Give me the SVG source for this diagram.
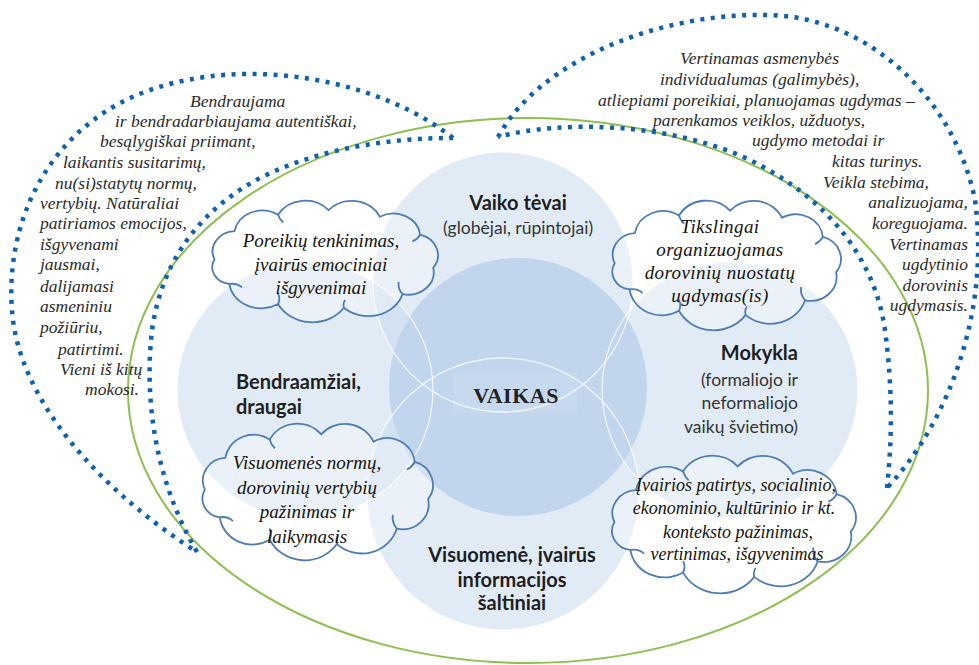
<svg xmlns="http://www.w3.org/2000/svg" xmlns:xlink="http://www.w3.org/1999/xlink" width="979" height="665" viewBox="0 0 979 665">
  <style>
    .it { font-family: "Liberation Serif", "DejaVu Serif", serif; font-style: italic; }
    .side { font-size: 17.5px; fill: #2a2a2a; }
    .cl { font-size: 19px; fill: #15130e; text-anchor: middle; }
    .cl4 { font-size: 18px; fill: #15130e; text-anchor: middle; }
    .sans { font-family: Lato, "Open Sans", "Liberation Sans", sans-serif; fill: #1e1e1e; }
    .hd { font-size: 20px; font-weight: bold; }
    .sub { font-size: 17.5px; fill: #333; }
    .ring { fill: #c8dbef; fill-opacity: 0.55; }
    .edge { fill: none; stroke: #ffffff; stroke-width: 1.3; stroke-opacity: 0.75; }
    .cloud { fill: #ffffff; fill-opacity: 0.3; stroke: #4e7db3; stroke-width: 1.8; }
    .cloudline { fill: none; stroke: #4e7db3; stroke-width: 1.8; }
    .dots { fill: none; stroke: #0f61ad; stroke-width: 4.5; stroke-dasharray: 4 6.5; }
  </style>
  <defs>
    <path id="cloudShape" vector-effect="non-scaling-stroke" d="M14 60 A18 18 0 0 1 29.6 34.8 A22 22 0 0 1 63.6 20.1 A24 24 0 0 1 103 16 A24 24 0 0 1 143 21.9 A21 21 0 0 1 174.5 38 A19 19 0 0 1 184.7 67.6 A20 20 0 0 1 160.8 91.1 A28 28 0 0 1 115 103.3 A30 30 0 0 1 63.6 99.9 A25 25 0 0 1 25.5 82 A15 15 0 0 1 14 60 Z"/>
    <path id="cloudInner" vector-effect="non-scaling-stroke" d="M25.5 82 q6 -1 10 3 M63.6 99.9 q2 -5 0 -9 M160.8 91.1 q-4 -5 -3 -11 M174.5 38 q-2 4 -6 6 M63.6 20.1 q1 4 4 7 M115 103.3 q-1 -4 1 -7"/>
  </defs>

  <rect width="979" height="665" fill="#ffffff"/>

  <!-- outer boundary -->
  <ellipse id="boundary" cx="528" cy="390.5" rx="400" ry="272.5" fill="none" stroke="#8ebf50" stroke-width="2"/>

  <!-- venn circles -->
  <g id="circles">
    <circle class="ring" cx="503" cy="282" r="130"/>
    <circle class="ring" cx="305" cy="390" r="128"/>
    <circle class="ring" cx="730" cy="390" r="128"/>
    <circle class="ring" cx="503" cy="494" r="136"/>
    <circle cx="518" cy="387" r="129" fill="#c1d5ec"/>
    <rect x="453" y="373" width="124" height="40" fill="#c6d9ee"/>
    <circle class="edge" cx="503" cy="282" r="130"/>
    <circle class="edge" cx="305" cy="390" r="128"/>
    <circle class="edge" cx="730" cy="390" r="128"/>
    <circle class="edge" cx="503" cy="494" r="136"/>
  </g>

  <g id="node-vaikas">
    <text x="516" y="403" font-family="'Liberation Serif', 'DejaVu Serif', serif" font-weight="bold" font-size="22" letter-spacing="0.5" fill="#222" text-anchor="middle">VAIKAS</text>
  </g>

  <g id="node-tevai" class="sans" text-anchor="middle">
    <text class="hd" x="518" y="210">Vaiko tėvai</text>
    <text class="sub" x="518" y="234">(globėjai, rūpintojai)</text>
  </g>

  <g id="node-draugai" class="sans">
    <text class="hd" x="236" y="389">Bendraamžiai,</text>
    <text class="hd" x="236" y="414">draugai</text>
  </g>

  <g id="node-mokykla" class="sans" text-anchor="end">
    <text class="hd" x="798" y="360">Mokykla</text>
    <text class="sub" x="798" y="386">(formaliojo ir</text>
    <text class="sub" x="798" y="409">neformaliojo</text>
    <text class="sub" x="798" y="433">vaikų švietimo)</text>
  </g>

  <g id="node-visuomene" class="sans" text-anchor="middle">
    <text class="hd" x="512" y="562">Visuomenė, įvairūs</text>
    <text class="hd" x="512" y="587">informacijos</text>
    <text class="hd" x="512" y="610">šaltiniai</text>
  </g>

  <!-- thought clouds -->
  <g id="cloud-poreikiai" font-family="'Liberation Serif', 'DejaVu Serif', serif" font-style="italic">
    <use xlink:href="#cloudShape" class="cloud" transform="translate(196.6 192.2) scale(1.281 1.119)"/>
    <use xlink:href="#cloudInner" class="cloudline" transform="translate(196.6 192.2) scale(1.281 1.119)"/>
    <text class="it cl" x="321" y="247">Poreikių tenkinimas,</text>
    <text class="it cl" x="321" y="271">įvairūs emociniai</text>
    <text class="it cl" x="321" y="294">išgyvenimai</text>
  </g>

  <g id="cloud-tikslingai" font-family="'Liberation Serif', 'DejaVu Serif', serif" font-style="italic">
    <use xlink:href="#cloudShape" class="cloud" transform="translate(596.5 191.6) scale(1.297 1.193)"/>
    <use xlink:href="#cloudInner" class="cloudline" transform="translate(596.5 191.6) scale(1.297 1.193)"/>
    <text class="it cl" x="720" y="233" letter-spacing="0.4">Tikslingai</text>
    <text class="it cl" x="720" y="256" letter-spacing="0.4">organizuojamas</text>
    <text class="it cl" x="720" y="279" letter-spacing="0.4">dorovinių nuostatų</text>
    <text class="it cl" x="720" y="302" letter-spacing="0.4">ugdymas(is)</text>
  </g>

  <g id="cloud-normos" font-family="'Liberation Serif', 'DejaVu Serif', serif" font-style="italic">
    <use xlink:href="#cloudShape" class="cloud" transform="translate(186.5 414.2) scale(1.308 1.257)"/>
    <use xlink:href="#cloudInner" class="cloudline" transform="translate(186.5 414.2) scale(1.308 1.257)"/>
    <text class="it cl" x="307" y="469">Visuomenės normų,</text>
    <text class="it cl" x="307" y="494">dorovinių vertybių</text>
    <text class="it cl" x="307" y="518">pažinimas ir</text>
    <text class="it cl" x="307" y="543">laikymasis</text>
  </g>

  <g id="cloud-patirtys" font-family="'Liberation Serif', 'DejaVu Serif', serif" font-style="italic">
    <use xlink:href="#cloudShape" class="cloud" transform="translate(595.1 446.1) scale(1.384 1.266)"/>
    <use xlink:href="#cloudInner" class="cloudline" transform="translate(595.1 446.1) scale(1.384 1.266)"/>
    <text class="it cl4" x="736" y="491">Įvairios patirtys, socialinio,</text>
    <text class="it cl4" x="734" y="514">ekonominio, kultūrinio ir kt.</text>
    <text class="it cl4" x="738" y="538">konteksto pažinimas,</text>
    <text class="it cl4" x="737" y="560">vertinimas, išgyvenimas</text>
  </g>

  <!-- side notes -->
  <g id="note-left" class="it side" font-family="'Liberation Serif', 'DejaVu Serif', serif" font-style="italic">
    <text x="190" y="107">Bendraujama</text>
    <text x="115" y="127">ir bendradarbiaujama autentiškai,</text>
    <text x="100" y="147">besąlygiškai priimant,</text>
    <text x="63" y="168">laikantis susitarimų,</text>
    <text x="55" y="189">nu(si)statytų normų,</text>
    <text x="40" y="209">vertybių. Natūraliai</text>
    <text x="40" y="229">patiriamos emocijos,</text>
    <text x="40" y="250">išgyvenami</text>
    <text x="40" y="270">jausmai,</text>
    <text x="40" y="292">dalijamasi</text>
    <text x="40" y="312">asmeniniu</text>
    <text x="40" y="333">požiūriu,</text>
    <text x="58" y="355">patirtimi.</text>
    <text x="60" y="375">Vieni iš kitų</text>
    <text x="85" y="395">mokosi.</text>
  </g>

  <g id="note-right" class="it side" font-family="'Liberation Serif', 'DejaVu Serif', serif" font-style="italic">
    <text x="680" y="64">Vertinamas asmenybės</text>
    <text x="660" y="85">individualumas (galimybės),</text>
    <text x="598" y="106">atliepiami poreikiai, planuojamas ugdymas –</text>
    <text x="653" y="126">parenkamos veiklos, užduotys,</text>
    <text x="752" y="146">ugdymo metodai ir</text>
    <text x="832" y="167">kitas turinys.</text>
    <text x="823" y="188">Veikla stebima,</text>
    <text x="968" y="208" text-anchor="end">analizuojama,</text>
    <text x="968" y="229" text-anchor="end">koreguojama.</text>
    <text x="968" y="250" text-anchor="end">Vertinamas</text>
    <text x="968" y="270" text-anchor="end">ugdytinio</text>
    <text x="968" y="291" text-anchor="end">dorovinis</text>
    <text x="968" y="311" text-anchor="end">ugdymasis.</text>
  </g>

  <!-- dotted loops -->
  <g id="connectors">
    <path class="dots" d="M453 138 C380 80 250 55 150 90 C50 125 5 220 12 310 C18 400 100 490 197 552"/>
    <path class="dots" d="M197 552 C155 480 144 400 152 330 C162 260 200 210 260 178 C320 148 390 138 453 138"/>
    <path class="dots" d="M498 137 C540 60 660 12 770 15 C870 18 955 100 975 200 C990 310 950 420 887 488"/>
    <path class="dots" d="M887 488 C892 440 893 390 885 330 C875 260 830 200 750 160 C670 122 560 120 498 137"/>
  </g>
</svg>
